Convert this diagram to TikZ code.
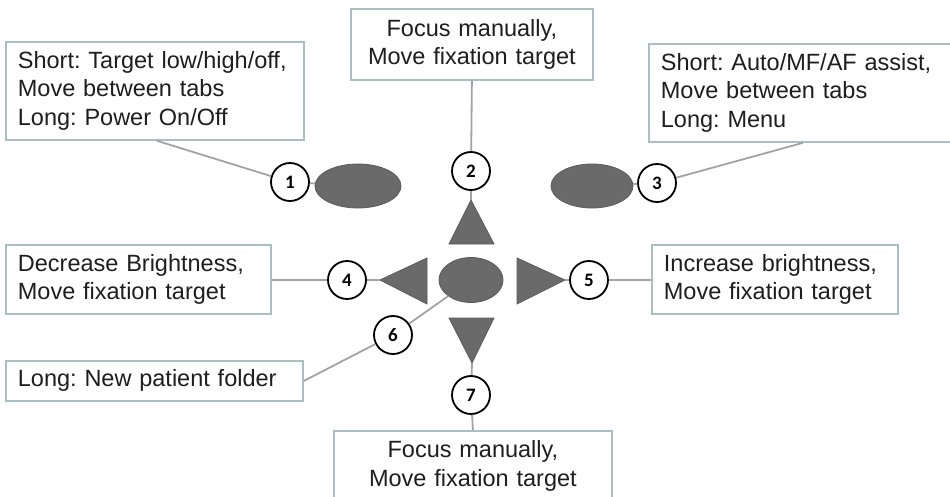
\documentclass[tikz,border=0pt]{standalone}
\usepackage{fontspec}
\setmainfont{Liberation Sans}
\newfontfamily\numfont{Carlito}
\frenchspacing
\usetikzlibrary{calc,shapes.geometric}
\definecolor{boxline}{HTML}{A8BFC3}
\definecolor{linkgray}{HTML}{A3A3A3}
\definecolor{btngray}{HTML}{6A6A6A}
\definecolor{txtcol}{HTML}{1E1E1E}
\begin{document}
\begin{tikzpicture}[x=1pt,y=-1pt,
 lbl/.style={draw=boxline, line width=1.8pt, fill=white, text=txtcol,
   font=\fontsize{23.5}{28.5}\selectfont, anchor=north west,
   inner xsep=12pt, inner ysep=0pt, align=left},
 num/.style={circle, draw=black, line width=1.8pt, fill=white,
   minimum size=38pt, inner sep=0pt, font=\numfont\bfseries\fontsize{19}{19}\selectfont},
 link/.style={draw=linkgray, line width=1.8pt},
 btn/.style={fill=btngray, draw=btngray!85!black, line width=0.8pt}]
\useasboundingbox (0,0) rectangle (950,497);
\clip (0,0) rectangle (950,497);

% label boxes
\node[lbl, text width=274pt, minimum height=98pt] (b1) at (5,41)
  {Short: Target low/high/off,\\Move between tabs\\Long: Power On/Off};
\node[lbl, align=center, text width=218pt, minimum height=71pt] (b2) at (350,8)
  {Focus manually,\\Move fixation target};
\node[lbl, text width=300pt, minimum height=98pt] (b3) at (648,43)
  {Short: Auto/MF/AF assist,\\Move between tabs\\Long: Menu};
\node[lbl, text width=241pt, minimum height=69pt] (b4) at (5,244)
  {Decrease Brightness,\\Move fixation target};
\node[lbl, text width=222pt, minimum height=69pt] (b5) at (651,244)
  {Increase brightness,\\Move fixation target};
\node[lbl, text width=273pt, minimum height=40pt] (b6) at (5,360)
  {Long: New patient folder};
\node[lbl, align=center, text width=254pt, minimum height=70pt] (b7) at (333,430)
  {Focus manually,\\Move fixation target};

% buttons
\node[btn, ellipse, minimum width=86pt, minimum height=44pt, inner sep=0pt] (e1) at (358,186) {};
\node[btn, ellipse, minimum width=82pt, minimum height=44pt, inner sep=0pt] (e3) at (592,186) {};
\node[btn, ellipse, minimum width=64pt, minimum height=45pt, inner sep=0pt] (e6) at (471,280) {};
\coordinate (tu) at (471,200);
\coordinate (tl) at (380,280);
\coordinate (tr) at (565,280);
\coordinate (td) at (472,363);
\path[btn] (tu) -- (494,244) -- (449,244) -- cycle;
\path[btn] (tl) -- (427,258) -- (427,304) -- cycle;
\path[btn] (tr) -- (517,258) -- (517,304) -- cycle;
\path[btn] (td) -- (494,318) -- (449,318) -- cycle;

% number circles
\node[num] (c1) at (290,182) {1};
\node[num] (c2) at (471,171) {2};
\node[num] (c3) at (657,183) {3};
\node[num] (c4) at (347,280) {4};
\node[num] (c5) at (589,280) {5};
\node[num] (c6) at (393,335) {6};
\node[num] (c7) at (471,395) {7};

% connectors
\draw[link] ([xshift=152pt]b1.south west) -- (c1);
\draw[link] (c1) -- (e1);
\draw[link] (b2.south) -- (c2);
\draw[link] (c2) -- (tu);
\draw[link] ([xshift=155pt]b3.south west) -- (c3);
\draw[link] (c3) -- (e3);
\draw[link] (b4.east |- c4) -- (c4);
\draw[link] (c4) -- (tl);
\draw[link] (tr) -- (c5);
\draw[link] (c5) -- (b5.west |- c5);
\draw[link] (e6) -- (c6);
\draw[link] (c6) -- (b6.east);
\draw[link] (td) -- (c7);
\draw[link] (c7) -- (b7.north);
\end{tikzpicture}
\end{document}
